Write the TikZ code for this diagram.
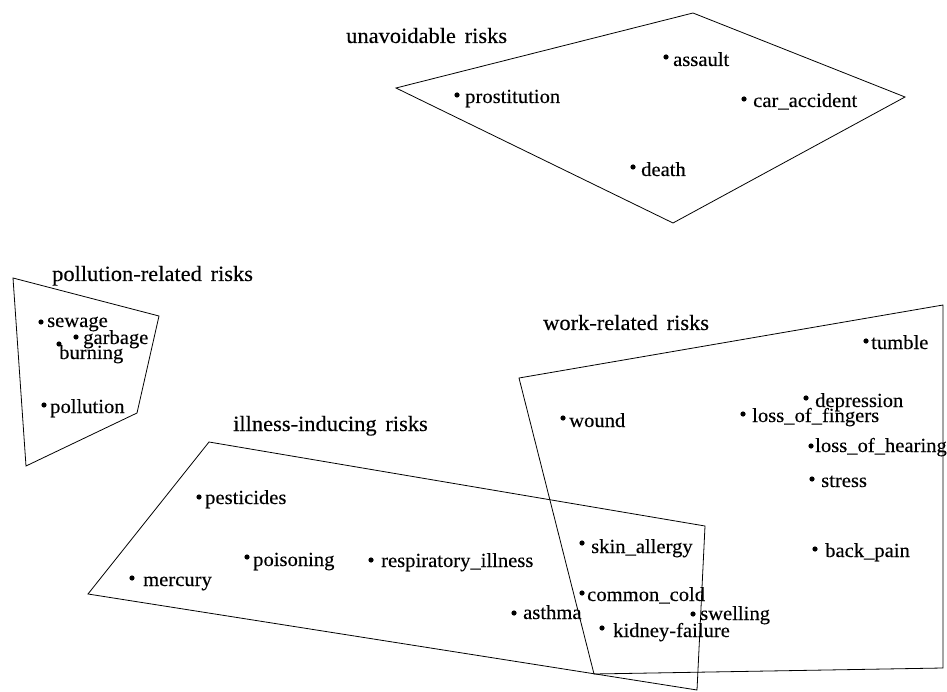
\documentclass[tikz,border=0pt]{standalone}
\usepackage{fontspec}
\setmainfont{Liberation Serif}[FakeBold=0.25,FakeStretch=1.03]
\newcommand{\wsp}{\hspace{0.4em}}
\begin{document}
\begin{tikzpicture}[x=1pt,y=-1pt,
  dot/.style={circle,fill=black,inner sep=0pt,minimum size=5.2pt},
  lbl/.style={anchor=base west,inner sep=0pt,font=\fontsize{20}{22}\selectfont},
  ttl/.style={anchor=base west,inner sep=0pt,font=\fontsize{21.8}{24}\selectfont},
  grp/.style={draw,line width=0.8pt,line join=miter}]
\useasboundingbox (0,0) rectangle (947,692);
% group outlines
\draw[grp] (396,88) -- (693,13) -- (905,97) -- (673,223) -- cycle;
\draw[grp] (13,278) -- (159,316) -- (137,413) -- (26,466) -- cycle;
\draw[grp] (209,442) -- (705,526) -- (697,690) -- (88,594) -- cycle;
\draw[grp] (519,378) -- (943,305) -- (943,668) -- (594,674) -- cycle;
% titles
\node[ttl] (t-unav) at (346,43) {unavoidable\wsp risks};
\node[ttl] (t-poll) at (52,281) {pollution-related\wsp risks};
\node[ttl] (t-ill) at (233,431) {illness-inducing\wsp risks};
\node[ttl] (t-work) at (543,330) {work-related\wsp risks};
% unavoidable
\node[dot] (assault) at (666,57) {};       \node[lbl] (assault-l) at (673,66) {assault};
\node[dot] (prostitution) at (457,95) {};  \node[lbl] (prostitution-l) at (465,103) {prostitution};
\node[dot] (car) at (744,99) {};           \node[lbl] (car-l) at (753,107) {car\_accident};
\node[dot] (death) at (633,167) {};        \node[lbl] (death-l) at (641,176) {death};
% pollution
\node[dot] (sewage) at (41,322) {};        \node[lbl] (sewage-l) at (47,327) {sewage};
\node[dot] (garbage) at (76,337) {};       \node[lbl] (garbage-l) at (83,344) {garbage};
\node[dot] (burning) at (59,344) {};       \node[lbl] (burning-l) at (59,359) {burning};
\node[dot] (pollution) at (44,405) {};     \node[lbl] (pollution-l) at (50,413) {pollution};
% illness
\node[dot] (pesticides) at (199,497) {};   \node[lbl] (pesticides-l) at (205,504) {pesticides};
\node[dot] (poisoning) at (247,557) {};    \node[lbl] (poisoning-l) at (253,566) {poisoning};
\node[dot] (respiratory) at (371,560) {};  \node[lbl] (respiratory-l) at (381,567) {respiratory\_illness};
\node[dot] (mercury) at (132,578) {};      \node[lbl] (mercury-l) at (143,586) {mercury};
\node[dot] (asthma) at (514,613) {};       \node[lbl] (asthma-l) at (523,619) {asthma};
\node[dot] (skin) at (582,543) {};         \node[lbl] (skin-l) at (591,553) {skin\_allergy};
\node[dot] (cold) at (582,593) {};         \node[lbl] (cold-l) at (587,601) {common\_cold};
\node[dot] (kidney) at (602,628) {};       \node[lbl] (kidney-l) at (613,637) {kidney-failure};
\node[dot] (swelling) at (693,614) {};     \node[lbl] (swelling-l) at (700,620) {swelling};
% work
\node[dot] (tumble) at (866,341) {};       \node[lbl] (tumble-l) at (871,349) {tumble};
\node[dot] (depression) at (806,398) {};   \node[lbl] (depression-l) at (815,407) {depression};
\node[dot] (fingers) at (743,414) {};      \node[lbl] (fingers-l) at (752,422) {loss\_of\_fingers};
\node[dot] (wound) at (563,418) {};        \node[lbl] (wound-l) at (569,427) {wound};
\node[dot] (hearing) at (811,446) {};      \node[lbl] (hearing-l) at (815,452) {loss\_of\_hearing};
\node[dot] (stress) at (812,479) {};       \node[lbl] (stress-l) at (821,487) {stress};
\node[dot] (backpain) at (815,549) {};     \node[lbl] (backpain-l) at (825,557) {back\_pain};
\end{tikzpicture}
\end{document}
